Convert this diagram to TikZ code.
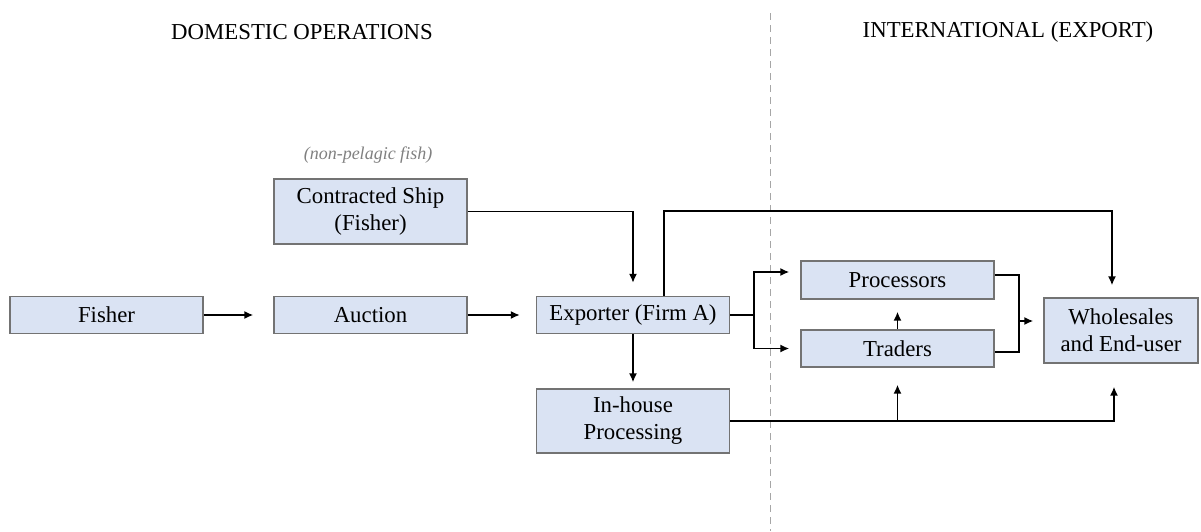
\documentclass[tikz,border=0pt]{standalone}
\usepackage{fontspec}
\setmainfont{Liberation Serif}
\usepackage{xcolor}
\usetikzlibrary{arrows.meta}
\definecolor{boxfill}{HTML}{DAE3F3}
\definecolor{boxline}{HTML}{737373}
\definecolor{notegray}{HTML}{808080}
\definecolor{divgray}{HTML}{A6A6A6}

\begin{document}
\begin{tikzpicture}[x=0.5pt, y=-0.5pt,
  font=\fontsize{11.4}{13.5}\selectfont,
  stage/.style={draw=boxline, fill=boxfill, line width=0.6pt, inner sep=0pt,
    minimum width=96.5pt, align=center},
  link/.style={line width=0.9pt},
  arr/.style={link, -{Latex[length=4.5pt,width=4pt]}, shorten >=#1},
  arr/.default=6pt]
\useasboundingbox (0,0) rectangle (1201,531);

\node (domestic) at (302,32) {DOMESTIC OPERATIONS};
\node (intl) at (1008,32) {INTERNATIONAL (EXPORT)};
\draw[divgray, line width=0.5pt, dash pattern=on 3.5pt off 2.5pt] (770,13) -- (770,531);

\node[stage, minimum height=18.5pt] (fisher) at (106.5,315) {Fisher};
\node[stage, minimum height=18.5pt] (auction) at (370.5,315) {Auction};
\node[stage, minimum height=32.5pt] (ship) at (370.5,211.5) {Contracted Ship\\(Fisher)};
\node[font=\fontsize{9}{11}\selectfont\itshape, text=notegray] (note) at (368,155) {(non-pelagic fish)};
\node[stage, minimum height=18.5pt] (exporter) at (633,315) {Exporter (Firm A)};
\node[stage, minimum height=32pt] (inhouse) at (633,421) {In-house\\Processing};
\node[stage, minimum height=19pt] (proc) at (897.5,280) {Processors};
\node[stage, minimum height=18.5pt] (trad) at (897.5,348.5) {Traders};
\node[stage, minimum width=77pt, minimum height=32.5pt] (whole) at (1121,330.5) {Wholesales\\and End-user};

\draw[arr=10pt] (fisher.east) -- (auction.west);
\draw[arr=8pt] (auction.east) -- (exporter.west);
\draw[arr=6.5pt] (ship.east) -| (exporter.north);
\draw[arr] ([xshift=15.5pt]exporter.north) -- ++(0,-85) -| ([xshift=-4.5pt]whole.north);
\draw[arr=3pt] (exporter.south) -- (inhouse.north);

\draw[link] (exporter.east) -- ++(24,0) coordinate (split);
\draw[arr=5.5pt] (split) |- ([yshift=4pt]proc.west);
\draw[arr=5.5pt] (split) |- (trad.west);
\draw[arr] (trad.north) -- (proc.south);

\draw[link] ([yshift=2.5pt]proc.east) -- ++(24,0) coordinate (mtop) |- ([yshift=-1.75pt]trad.east);
\coordinate (wjoin) at ([yshift=4.75pt]whole.west);
\draw[arr=5pt] (mtop |- wjoin) -- (wjoin);

\draw[arr=11.5pt] (inhouse.east) -| ([xshift=-3.5pt]whole.south);
\draw[arr=8.5pt] (inhouse.east -| trad.south) -- (trad.south);
\end{tikzpicture}
\end{document}
